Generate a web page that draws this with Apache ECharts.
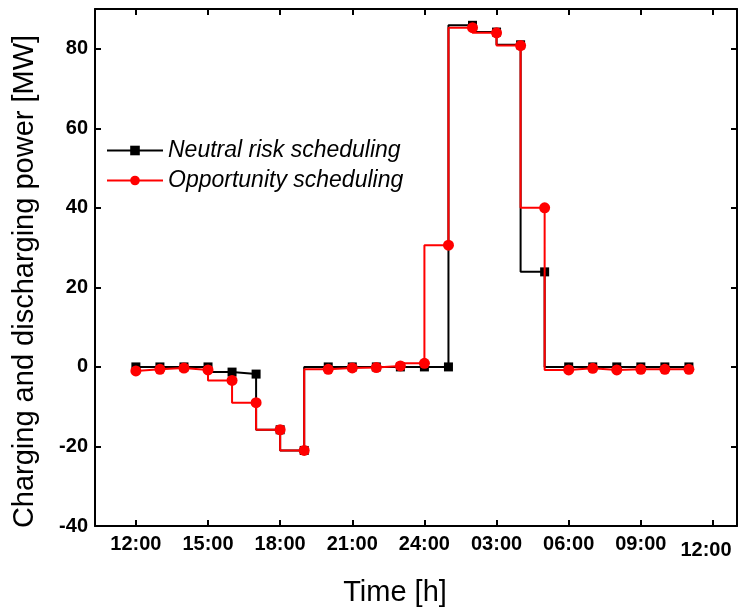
<!DOCTYPE html>
<html>
<head>
<meta charset="utf-8">
<script src="https://cdn.jsdelivr.net/npm/echarts@6/dist/echarts.min.js"></script>
<style>html,body{margin:0;padding:0;background:#fff}#c{width:741px;height:613px}</style>
</head>
<body>
<div id="c"></div>
<script>
// hours after 12:00
var hours = [0,1,2,3,4,5,6,7,8,9,10,11,12,13,14,15,16,17,18,19,20,21,22,23];
var neutralRisk = [0,0,0,0,-1.3,-1.8,-15.8,-21.0,0,0,0,0,0,0,85.9,84.2,81.0,23.9,0,0,0,0,0,0];
var opportunity = [-1.0,-0.6,-0.3,-0.75,-3.4,-9.0,-15.8,-21.0,-0.6,-0.25,-0.15,0.25,0.9,30.6,85.3,84.0,80.8,40.0,-0.75,-0.35,-0.75,-0.6,-0.6,-0.6];
var xTickValues = [0,3,6,9,12,15,18,21,24];
var xTickLabels = ['12:00','15:00','18:00','21:00','24:00','03:00','06:00','09:00','12:00'];
var yTickValues = [-40,-20,0,20,40,60,80];

function pairs(ys){ return hours.map(function(h,i){ return [h, ys[i]]; }); }

var FONT = '"Liberation Sans", Arial, sans-serif';
var xMin = -1.7, xMax = 25, yMin = -40, yMax = 90;
var tickStyle = {color:'#000', width: 2};
var lineStyle = {color: '#000', width: 2};

var chart = echarts.init(document.getElementById('c'), null, {renderer:'canvas'});
chart.setOption({
  animation: false,
  backgroundColor: '#fff',
  grid: {left: 95, right: 4, top: 9, bottom: 87, containLabel: false},
  legend: {
    left: 101, top: 134, orient: 'vertical', itemWidth: 56, itemHeight: 12, itemGap: 7,
    textStyle: {fontFamily: FONT, fontStyle: 'italic', fontSize: 23, color: '#000'},
    data: ['Neutral risk scheduling', 'Opportunity scheduling']
  },
  xAxis: [{
    type: 'value', min: xMin, max: xMax, position: 'bottom',
    name: 'Time [h]', nameLocation: 'middle', nameGap: 52,
    nameTextStyle: {fontFamily: FONT, fontSize: 29, color: '#000', padding: [0, 42, 0, 0]},
    axisLine: {show: true, onZero: false, lineStyle: lineStyle},
    axisTick: {show: true, inside: true, length: 6, customValues: xTickValues, lineStyle: tickStyle},
    axisLabel: {
      customValues: xTickValues, margin: 8, color: '#000', fontFamily: FONT, fontWeight: 'bold', fontSize: 20,
      formatter: function(v){ var i = xTickValues.indexOf(v); if (i === xTickValues.length-1) return '{b|' + xTickLabels[i] + '}'; return i >= 0 ? xTickLabels[i] : ''; },
      rich: {b: {fontFamily: FONT, fontWeight: 'bold', fontSize: 20, color: '#000', padding: [6, 14, 0, 0]}}
    },
    splitLine: {show: false}
  }, {
    type: 'value', min: xMin, max: xMax, position: 'top',
    axisLine: {show: true, onZero: false, lineStyle: lineStyle},
    axisTick: {show: true, inside: true, length: 6, customValues: xTickValues, lineStyle: tickStyle},
    axisLabel: {show: false}, splitLine: {show: false}
  }],
  yAxis: [{
    type: 'value', min: yMin, max: yMax, position: 'left',
    name: 'Charging and discharging power [MW]', nameLocation: 'middle', nameGap: 56,
    nameTextStyle: {fontFamily: FONT, fontSize: 29, color: '#000', padding: [0, 28, 0, 0]},
    axisLine: {show: true, onZero: false, lineStyle: lineStyle},
    axisTick: {show: true, inside: true, length: 6, customValues: yTickValues, lineStyle: tickStyle},
    axisLabel: {customValues: yTickValues, margin: 7, color: '#000', fontFamily: FONT, fontWeight: 'bold', fontSize: 20},
    splitLine: {show: false}
  }, {
    type: 'value', min: yMin, max: yMax, position: 'right',
    axisLine: {show: true, onZero: false, lineStyle: lineStyle},
    axisTick: {show: true, inside: true, length: 6, customValues: yTickValues, lineStyle: tickStyle},
    axisLabel: {show: false}, splitLine: {show: false}
  }],
  series: [{
    name: 'Neutral risk scheduling', type: 'line', step: 'start',
    data: pairs(neutralRisk), symbol: 'rect', symbolSize: 9,
    lineStyle: {color: '#000', width: 2}, itemStyle: {color: '#000'}, z: 2
  }, {
    name: 'Opportunity scheduling', type: 'line', step: 'start',
    data: pairs(opportunity), symbol: 'circle', symbolSize: 11,
    lineStyle: {color: '#ff0000', width: 2}, itemStyle: {color: '#ff0000'}, z: 3
  }]
});
</script>
</body>
</html>
